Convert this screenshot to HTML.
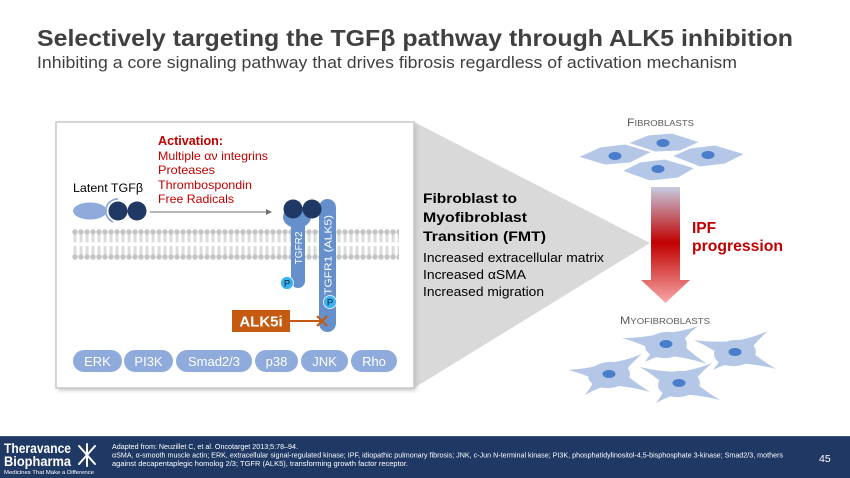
<!DOCTYPE html>
<html>
<head>
<meta charset="utf-8">
<style>
  html, body { margin:0; padding:0; background:#ffffff; }
  body { width:850px; height:478px; overflow:hidden; }
  svg { display:block; }
  text { font-family: "Liberation Sans", Arial, sans-serif; }
</style>
</head>
<body>
<svg width="850" height="478" viewBox="0 0 850 478" xmlns="http://www.w3.org/2000/svg">
  <defs>
    <pattern id="lipid" patternUnits="userSpaceOnUse" x="72" y="229" width="6" height="31">
      <circle cx="3" cy="3" r="2.7" fill="#c4c4c4"/>
      <circle cx="3" cy="28" r="2.7" fill="#c4c4c4"/>
      <line x1="2.2" y1="5" x2="2.2" y2="13.5" stroke="#c4c4c4" stroke-width="0.9"/>
      <line x1="3.9" y1="5" x2="3.9" y2="13.5" stroke="#c4c4c4" stroke-width="0.9"/>
      <line x1="2.2" y1="17" x2="2.2" y2="26" stroke="#c4c4c4" stroke-width="0.9"/>
      <line x1="3.9" y1="17" x2="3.9" y2="26" stroke="#c4c4c4" stroke-width="0.9"/>
    </pattern>
    <linearGradient id="ipf" x1="0" y1="187" x2="0" y2="303" gradientUnits="userSpaceOnUse">
      <stop offset="0" stop-color="#c6cbe0"/>
      <stop offset="0.48" stop-color="#c00000"/>
      <stop offset="1" stop-color="#f8a8a8"/>
    </linearGradient>
    <filter id="shadow" x="-10%" y="-10%" width="120%" height="120%">
      <feGaussianBlur stdDeviation="2"/>
    </filter>
    <marker id="ah" markerWidth="6" markerHeight="6" refX="5" refY="3" orient="auto" markerUnits="userSpaceOnUse">
      <path d="M0,0 L6,3 L0,6 Z" fill="#6f6f6f"/>
    </marker>

    <!-- myofibroblast cell shapes -->
    <g id="cA">
      <ellipse cx="666" cy="345" rx="21" ry="13" transform="rotate(-5 666 345)"/>
      <path d="M0,-12 Q22,-3 44.4,0 Q22,3 0,12 Z" transform="translate(666,344) rotate(187.8)"/>
      <path d="M0,-12 Q18,-3 36.7,0 Q18,3 0,12 Z" transform="translate(666,344) rotate(-29.4)"/>
      <path d="M0,-12 Q23,-3 45.6,0 Q23,3 0,12 Z" transform="translate(666,344) rotate(26)"/>
      <path d="M0,-12 Q14,-3 27.7,0 Q14,3 0,12 Z" transform="translate(666,344) rotate(139.4)"/>
    </g>
    <g id="cB">
      <ellipse cx="735" cy="353" rx="21" ry="13" transform="rotate(-5 735 353)"/>
      <path d="M0,-12 Q21,-3 42.7,0 Q21,3 0,12 Z" transform="translate(735,352) rotate(196.3)"/>
      <path d="M0,-12 Q19,-3 39.1,0 Q19,3 0,12 Z" transform="translate(735,352) rotate(-32.5)"/>
      <path d="M0,-12 Q22,-3 44.4,0 Q22,3 0,12 Z" transform="translate(735,352) rotate(22.5)"/>
      <path d="M0,-12 Q14,-3 28.4,0 Q14,3 0,12 Z" transform="translate(735,352) rotate(140.7)"/>
    </g>
    <g id="cC">
      <ellipse cx="609" cy="375" rx="21" ry="13" transform="rotate(-5 609 375)"/>
      <path d="M0,-12 Q20,-3 41.2,0 Q20,3 0,12 Z" transform="translate(609,374) rotate(185.6)"/>
      <path d="M0,-12 Q19,-3 38.6,0 Q19,3 0,12 Z" transform="translate(609,374) rotate(-31.2)"/>
      <path d="M0,-12 Q22,-3 44.8,0 Q22,3 0,12 Z" transform="translate(609,374) rotate(23.7)"/>
      <path d="M0,-12 Q16,-3 31.9,0 Q16,3 0,12 Z" transform="translate(609,374) rotate(138.8)"/>
    </g>
    <g id="cD">
      <ellipse cx="679" cy="384" rx="21" ry="13" transform="rotate(-5 679 384)"/>
      <path d="M0,-12 Q21,-3 42.2,0 Q21,3 0,12 Z" transform="translate(679,383) rotate(202.3)"/>
      <path d="M0,-12 Q19,-3 38.6,0 Q19,3 0,12 Z" transform="translate(679,383) rotate(-31.2)"/>
      <path d="M0,-12 Q22,-3 44.4,0 Q22,3 0,12 Z" transform="translate(679,383) rotate(22.5)"/>
      <path d="M0,-12 Q15,-3 30.5,0 Q15,3 0,12 Z" transform="translate(679,383) rotate(139)"/>
    </g>
  </defs>

  <!-- Title -->
  <text x="37" y="46" font-size="23" font-weight="bold" fill="#404040" textLength="756" lengthAdjust="spacingAndGlyphs">Selectively targeting the TGFβ pathway through ALK5 inhibition</text>
  <text x="37" y="68" font-size="16.5" fill="#404040" textLength="700" lengthAdjust="spacingAndGlyphs">Inhibiting a core signaling pathway that drives fibrosis regardless of activation mechanism</text>

  <!-- Gray triangle -->
  <polygon points="414,122 650,243 414,388" fill="#d9d9d9"/>

  <!-- Box -->
  <rect x="58" y="124" width="358" height="266" fill="#bdbdbd" filter="url(#shadow)"/>
  <rect x="56" y="122" width="358" height="266" fill="#ffffff" stroke="#c8c8c8" stroke-width="1.5"/>

  <!-- Activation text -->
  <text x="158" y="145" font-size="12.5" font-weight="bold" fill="#c00000" textLength="65" lengthAdjust="spacingAndGlyphs">Activation:</text>
  <text x="158" y="160" font-size="12" fill="#c00000" textLength="110" lengthAdjust="spacingAndGlyphs">Multiple αν integrins</text>
  <text x="158" y="174" font-size="12" fill="#c00000" textLength="57" lengthAdjust="spacingAndGlyphs">Proteases</text>
  <text x="158" y="189" font-size="12" fill="#c00000" textLength="94" lengthAdjust="spacingAndGlyphs">Thrombospondin</text>
  <text x="158" y="203" font-size="12" fill="#c00000" textLength="76" lengthAdjust="spacingAndGlyphs">Free Radicals</text>

  <!-- Latent TGFb -->
  <text x="73" y="192" font-size="12" fill="#000000" textLength="70" lengthAdjust="spacingAndGlyphs">Latent TGFβ</text>
  <ellipse cx="90" cy="211" rx="17" ry="8.5" fill="#8fabdc"/>
  <path d="M118,199 A12,12 0 0 0 113,222" fill="none" stroke="#8fabdc" stroke-width="1.8"/>
  <circle cx="118" cy="211" r="9.5" fill="#1f3864"/>
  <circle cx="137" cy="211" r="9.5" fill="#1f3864"/>

  <!-- arrow -->
  <line x1="150" y1="212" x2="271" y2="212" stroke="#6f6f6f" stroke-width="1" marker-end="url(#ah)"/>

  <!-- Membrane -->
  <rect x="72" y="229" width="327" height="31" fill="url(#lipid)"/>

  <!-- Receptors -->
  <ellipse cx="297" cy="217" rx="14" ry="11" fill="#6690cc"/>
  <rect x="291" y="212" width="14" height="76" rx="7" fill="#6690cc"/>
  <rect x="319" y="199" width="17" height="133" rx="8.5" fill="#6690cc"/>
  <circle cx="293" cy="209" r="9.5" fill="#1f3864"/>
  <circle cx="312" cy="209" r="9.5" fill="#1f3864"/>
  <text transform="translate(302,248) rotate(-90)" font-size="10" fill="#ffffff" text-anchor="middle">TGFR2</text>
  <text transform="translate(331.5,255) rotate(-90)" font-size="10" fill="#ffffff" text-anchor="middle" textLength="80" lengthAdjust="spacingAndGlyphs">TGFR1 (ALK5)</text>

  <circle cx="287" cy="283" r="6.5" fill="#39b3ef" stroke="#ffffff" stroke-width="0.8"/>
  <text x="287" y="286.5" font-size="9.5" fill="#0d1f3c" text-anchor="middle">P</text>
  <circle cx="330" cy="302" r="6.5" fill="#39b3ef" stroke="#ffffff" stroke-width="0.8"/>
  <text x="330" y="305.5" font-size="9.5" fill="#0d1f3c" text-anchor="middle">P</text>

  <!-- ALK5i -->
  <rect x="232" y="310" width="58" height="22" fill="#c55a11"/>
  <text x="261" y="326.5" font-size="15" font-weight="bold" fill="#ffffff" text-anchor="middle">ALK5i</text>
  <line x1="290" y1="321" x2="322" y2="321" stroke="#c55a11" stroke-width="2"/>
  <line x1="317" y1="316" x2="327" y2="326" stroke="#c55a11" stroke-width="2"/>
  <line x1="317" y1="326" x2="327" y2="316" stroke="#c55a11" stroke-width="2"/>

  <!-- Pills -->
  <g fill="#8fabdc">
    <rect x="73" y="350" width="49" height="22" rx="11"/>
    <rect x="124" y="350" width="49" height="22" rx="11"/>
    <rect x="176" y="350" width="76" height="22" rx="11"/>
    <rect x="255" y="350" width="43" height="22" rx="11"/>
    <rect x="301" y="350" width="47" height="22" rx="11"/>
    <rect x="351" y="350" width="46" height="22" rx="11"/>
  </g>
  <g font-size="13" fill="#ffffff" text-anchor="middle">
    <text x="97.5" y="366">ERK</text>
    <text x="148.5" y="366">PI3K</text>
    <text x="214" y="366">Smad2/3</text>
    <text x="276.5" y="366">p38</text>
    <text x="324.5" y="366">JNK</text>
    <text x="374" y="366">Rho</text>
  </g>

  <!-- Middle text -->
  <text x="423" y="203" font-size="14" font-weight="bold" fill="#000000" textLength="94" lengthAdjust="spacingAndGlyphs">Fibroblast to</text>
  <text x="423" y="222" font-size="14" font-weight="bold" fill="#000000" textLength="104" lengthAdjust="spacingAndGlyphs">Myofibroblast</text>
  <text x="423" y="241" font-size="14" font-weight="bold" fill="#000000" textLength="123" lengthAdjust="spacingAndGlyphs">Transition (FMT)</text>
  <text x="423" y="262" font-size="12.5" fill="#000000" textLength="181" lengthAdjust="spacingAndGlyphs">Increased extracellular matrix</text>
  <text x="423" y="279" font-size="12.5" fill="#000000" textLength="103" lengthAdjust="spacingAndGlyphs">Increased αSMA</text>
  <text x="423" y="296" font-size="12.5" fill="#000000" textLength="121" lengthAdjust="spacingAndGlyphs">Increased migration</text>

  <!-- Fibroblasts -->
  <text x="627" y="126" fill="#595959" textLength="67" lengthAdjust="spacingAndGlyphs"><tspan font-size="11">F</tspan><tspan font-size="8.5">IBROBLASTS</tspan></text>
  <g fill="#b4c7e7" stroke="#ffffff" stroke-width="1">
    <polygon points="628,143 648,135 672,133 700,142 680,151 655,152"/>
    <polygon points="578,157 600,147 625,144 652,152 630,163 605,165"/>
    <polygon points="672,156 690,148 715,145 745,154 725,164 700,167"/>
    <polygon points="622,171 640,162 665,159 695,168 678,178 650,181"/>
  </g>
  <g fill="#4a7ecb">
    <ellipse cx="663" cy="143" rx="6.5" ry="4"/>
    <ellipse cx="615" cy="156" rx="6.5" ry="4"/>
    <ellipse cx="708" cy="155" rx="6.5" ry="4"/>
    <ellipse cx="658" cy="169" rx="6.5" ry="4"/>
  </g>

  <!-- IPF arrow -->
  <path d="M651,187 H680 V280 H690 L665.5,303 L641,280 H651 Z" fill="url(#ipf)"/>
  <text x="692" y="233" font-size="15.5" font-weight="bold" fill="#c00000">IPF</text>
  <text x="692" y="251" font-size="15.5" font-weight="bold" fill="#c00000" textLength="91" lengthAdjust="spacingAndGlyphs">progression</text>

  <!-- Myofibroblasts -->
  <text x="620" y="324" fill="#595959" textLength="90" lengthAdjust="spacingAndGlyphs"><tspan font-size="11">M</tspan><tspan font-size="8.5">YOFIBROBLASTS</tspan></text>
  <use href="#cA" fill="#ffffff" stroke="#ffffff" stroke-width="3"/>
  <use href="#cA" fill="#b4c7e7"/>
  <use href="#cB" fill="#ffffff" stroke="#ffffff" stroke-width="3"/>
  <use href="#cB" fill="#b4c7e7"/>
  <use href="#cC" fill="#ffffff" stroke="#ffffff" stroke-width="3"/>
  <use href="#cC" fill="#b4c7e7"/>
  <use href="#cD" fill="#ffffff" stroke="#ffffff" stroke-width="3"/>
  <use href="#cD" fill="#b4c7e7"/>
  <g fill="#4a7ecb">
    <ellipse cx="666" cy="344" rx="6.5" ry="4"/>
    <ellipse cx="735" cy="352" rx="6.5" ry="4"/>
    <ellipse cx="609" cy="374" rx="6.5" ry="4"/>
    <ellipse cx="679" cy="383" rx="6.5" ry="4"/>
  </g>

  <!-- Footer -->
  <rect x="0" y="436" width="850" height="42" fill="#1f3864"/>
  <line x1="0" y1="436.5" x2="850" y2="436.5" stroke="#3d5585" stroke-width="1"/>
  <text x="4" y="453" font-size="13.5" font-weight="bold" fill="#ffffff" textLength="67" lengthAdjust="spacingAndGlyphs">Theravance</text>
  <text x="4" y="466" font-size="13.5" font-weight="bold" fill="#ffffff" textLength="67" lengthAdjust="spacingAndGlyphs">Biopharma</text>
  <text x="4" y="474" font-size="5.5" fill="#ffffff" textLength="90" lengthAdjust="spacingAndGlyphs">Medicines That Make a Difference</text>
  <!-- logo star -->
  <g stroke="#ffffff" stroke-width="2" stroke-linecap="round">
    <line x1="87" y1="455" x2="79" y2="446"/>
    <line x1="87" y1="455" x2="95" y2="446"/>
    <line x1="87" y1="455" x2="79" y2="464"/>
    <line x1="87" y1="455" x2="95" y2="464"/>
    <line x1="87" y1="455" x2="87" y2="444"/>
    <line x1="87" y1="455" x2="87" y2="466"/>
  </g>
  <g font-size="7" fill="#ffffff">
    <text x="112" y="449" textLength="186" lengthAdjust="spacingAndGlyphs">Adapted from: Neuzillet C, et al. Oncotarget 2013;5:78–94.</text>
    <text x="112" y="457.5" textLength="671" lengthAdjust="spacingAndGlyphs">αSMA, α-smooth muscle actin; ERK, extracellular signal-regulated kinase; IPF, idiopathic pulmonary fibrosis; JNK, c-Jun N-terminal kinase; PI3K, phosphatidylinositol-4,5-bisphosphate 3-kinase; Smad2/3, mothers</text>
    <text x="112" y="466" textLength="296" lengthAdjust="spacingAndGlyphs">against decapentaplegic homolog 2/3; TGFR (ALK5), transforming growth factor receptor.</text>
  </g>
  <text x="819" y="462" font-size="10.5" fill="#ffffff">45</text>
</svg>
</body>
</html>
